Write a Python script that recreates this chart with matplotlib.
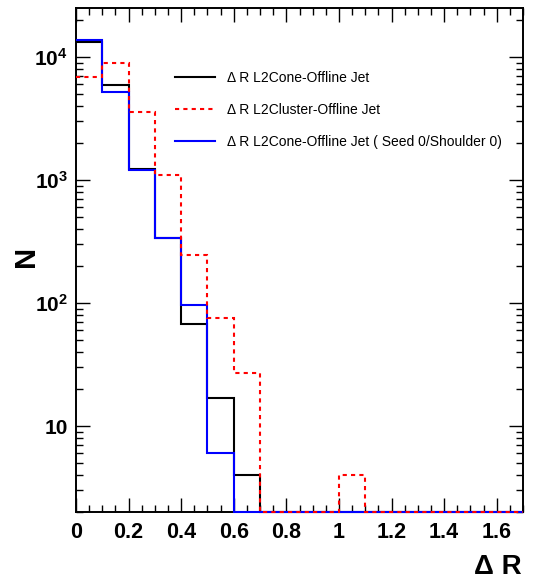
import numpy as np
import matplotlib
matplotlib.use("Agg")
import matplotlib.pyplot as plt
from matplotlib.lines import Line2D
from matplotlib.ticker import FixedLocator, FixedFormatter, MultipleLocator

plt.rcParams["font.family"] = ["Liberation Sans", "DejaVu Sans"]
plt.rcParams["mathtext.fontset"] = "custom"
plt.rcParams["mathtext.rm"] = "Liberation Sans"
plt.rcParams["mathtext.bf"] = "Liberation Sans:bold"

# bins of Delta R, width 0.1 from 0 to 1.7
bin_edges = np.round(np.arange(0.0, 1.71, 0.1), 2)

# counts per bin
cone = [13300, 5890, 1228, 336, 68, 17, 4, 0, 0, 0, 0, 0, 0, 0, 0, 0, 0]
cluster = [6840, 8990, 3590, 1105, 247, 75, 27, 0, 0, 0, 4, 0, 0, 0, 0, 0, 0]
cone_seed0 = [13800, 5230, 1210, 336, 97, 6, 0, 0, 0, 0, 0, 0, 0, 0, 0, 0, 0]

labels = ["\u0394 R L2Cone-Offline Jet",
          "\u0394 R L2Cluster-Offline Jet",
          "\u0394 R L2Cone-Offline Jet ( Seed 0/Shoulder 0)"]

y_ticks = [10, 100, 1000, 10000]
y_ticklabels = ["10", r"$\mathbf{10^{2}}$", r"$\mathbf{10^{3}}$", r"$\mathbf{10^{4}}$"]

ymin, ymax = 2, 2.52e4

fig = plt.figure(figsize=(5.35, 5.82), dpi=100)
ax = fig.add_axes([76 / 535, 1 - 512 / 582, (523 - 76) / 535, (512 - 7.5) / 582])
ax.set_yscale("log")

lw = 1.5
# zeros are drawn on the lower edge, like ROOT does
clip = lambda v: np.maximum(np.array(v, dtype=float), ymin)
ax.stairs(clip(cone), bin_edges, baseline=None, color="black", lw=lw,
          clip_on=False, zorder=3)
ax.stairs(clip(cone_seed0), bin_edges, baseline=None, color="#0000ff", lw=lw,
          clip_on=False, zorder=3)
ax.stairs(clip(cluster), bin_edges, baseline=None, color="#ff0000", lw=lw,
          linestyle=(0, (2, 2)), clip_on=False, zorder=3)

ax.set_xlim(0, 1.7)
ax.set_ylim(ymin, ymax)

ax.xaxis.set_major_locator(MultipleLocator(0.2))
ax.xaxis.set_minor_locator(MultipleLocator(0.05))
ax.xaxis.set_major_formatter(plt.FuncFormatter(lambda v, p: f"{v:g}"))
ax.yaxis.set_major_locator(FixedLocator(y_ticks))
ax.yaxis.set_major_formatter(FixedFormatter(y_ticklabels))

ax.tick_params(which="both", direction="in", top=True, right=True, width=1)
ax.tick_params(which="major", length=10)
ax.tick_params(which="minor", length=5)
ax.tick_params(axis="x", which="major", pad=7, labelsize=15.5)
ax.tick_params(axis="y", which="major", pad=6, labelsize=15)
for lab in ax.get_xticklabels() + ax.get_yticklabels():
    lab.set_fontweight("bold")
for s in ax.spines.values():
    s.set_linewidth(1.4)

handles = [Line2D([], [], color="black", lw=lw),
           Line2D([], [], color="#ff0000", lw=lw, linestyle=(0, (2, 2))),
           Line2D([], [], color="#0000ff", lw=lw)]
ax.legend(handles, labels, loc="upper left", bbox_to_anchor=(0.209, 0.886),
          frameon=False, fontsize=10, handlelength=2.9, handletextpad=0.85,
          labelspacing=1.3, borderaxespad=0)

fig.text(25.5 / 535, 1 - 256.7 / 582, "N", rotation=90, ha="center", va="center",
         fontsize=21, fontweight="bold")
fig.text(522 / 535, 2 / 582, "\u0394 R", ha="right", va="bottom",
         fontsize=20, fontweight="bold")

fig.savefig("out.png", dpi=100)
